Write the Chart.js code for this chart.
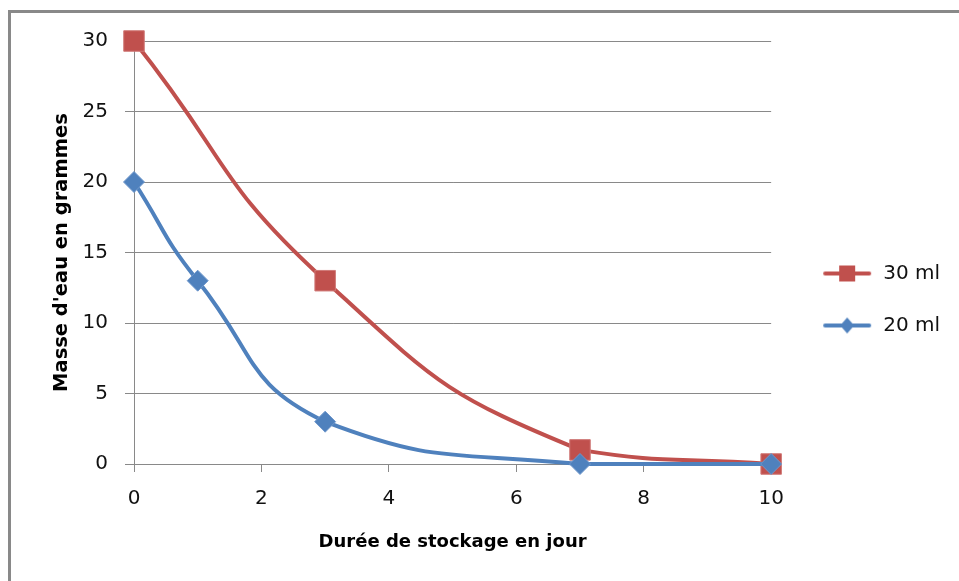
<!DOCTYPE html>
<html>
<head>
<meta charset="utf-8">
<script src="https://cdn.jsdelivr.net/npm/chart.js@4.4.0/dist/chart.umd.min.js"></script>
<style>
  html, body { margin: 0; padding: 0; background: #fff; overflow: hidden; width: 959px; height: 581px; }
  #frame { position: absolute; left: 8px; top: 10px; width: 1200px; height: 900px; border: 3px solid #898989; box-sizing: border-box; }
  #clip { position: absolute; left: 0; top: 0; width: 959px; height: 581px; overflow: hidden; }
  #wrap { position: absolute; left: 0; top: 0; width: 959px; height: 581px; }
</style>
</head>
<body>
<div id="clip"><div id="frame"></div></div>
<div id="wrap"><canvas id="c" width="959" height="581"></canvas></div>
<script>
const seriesNames = ['30 ml', '20 ml'];
const days30 = [0, 3, 7, 10];
const mass30 = [30, 13, 1, 0];
const days20 = [0, 1, 3, 7, 10];
const mass20 = [20, 13, 3, 0, 0];
const xTitle = 'Durée de stockage en jour';
const yTitle = "Masse d'eau en grammes";

const RED = '#C0504D';
const BLUE = '#4F81BD';
const ICON_W = 70;

function legendIcon(color, style) {
  const cv = document.createElement('canvas');
  cv.width = ICON_W; cv.height = 24;
  const g = cv.getContext('2d');
  g.strokeStyle = color; g.lineWidth = 4; g.lineCap = 'round';
  g.beginPath(); g.moveTo(22, 12); g.lineTo(66, 12); g.stroke();
  g.fillStyle = color;
  const cx = 44;
  if (style === 'rect') {
    g.fillRect(cx - 8, 4, 16, 16);
  } else {
    g.beginPath(); g.moveTo(cx, 4); g.lineTo(cx + 7, 12); g.lineTo(cx, 20); g.lineTo(cx - 7, 12); g.closePath(); g.fill();
  }
  return cv;
}

const pts = (xs, ys) => xs.map((x, i) => ({ x: x, y: ys[i] }));

new Chart(document.getElementById('c'), {
  type: 'line',
  data: {
    datasets: [
      {
        label: seriesNames[0],
        data: pts(days30, mass30),
        borderColor: RED,
        backgroundColor: RED,
        borderWidth: 4,
        pointStyle: 'rect',
        pointRadius: 14.5,
        pointBorderWidth: 1,
        pointBorderColor: '#D07A78',
        tension: 0.5,
        clip: false,
        order: 1
      },
      {
        label: seriesNames[1],
        data: pts(days20, mass20),
        borderColor: BLUE,
        backgroundColor: BLUE,
        borderWidth: 4,
        pointStyle: 'rectRot',
        pointRadius: 10.5,
        pointBorderWidth: 1,
        pointBorderColor: '#6F97CB',
        tension: 0.5,
        clip: false,
        order: 0
      }
    ]
  },
  options: {
    responsive: false,
    animation: false,
    events: [],
    layout: { padding: { left: 40, top: 41, right: 9, bottom: 23 } },
    plugins: {
      tooltip: { enabled: false },
      legend: {
        position: 'right',
        align: 'center',
        labels: {
          usePointStyle: true,
          pointStyleWidth: ICON_W,
          padding: 32,
          color: '#111',
          font: { family: 'DejaVu Sans', size: 20 },
          sort: (a, b) => a.datasetIndex - b.datasetIndex,
          generateLabels: (chart) => chart.data.datasets.map((ds, i) => ({
            text: ds.label,
            pointStyle: legendIcon(ds.borderColor, ds.pointStyle),
            fillStyle: ds.borderColor,
            strokeStyle: ds.borderColor,
            lineWidth: 0,
            datasetIndex: i,
            fontColor: '#111'
          }))
        }
      }
    },
    scales: {
      x: {
        type: 'linear',
        min: 0, max: 10,
        border: { display: true, color: '#898989', width: 1 },
        grid: { drawOnChartArea: false, drawTicks: true, tickLength: 8, color: '#898989' },
        ticks: { stepSize: 2, color: '#111', padding: 15, font: { family: 'DejaVu Sans', size: 20 } },
        title: { display: true, text: xTitle, color: '#000', font: { family: 'DejaVu Sans', size: 18, weight: 'bold' }, padding: { top: 4, bottom: 5 } },
        afterFit: (s) => { s.height = 94; }
      },
      y: {
        min: 0, max: 30,
        border: { display: true, color: '#898989', width: 1 },
        grid: { drawTicks: true, tickLength: 9, color: '#898989' },
        ticks: { stepSize: 5, color: '#111', padding: 17, font: { family: 'DejaVu Sans', size: 20 } },
        title: { display: true, text: yTitle, color: '#000', font: { family: 'DejaVu Sans', size: 19.5, weight: 'bold' }, padding: { top: 10, bottom: 4 } },
        afterFit: (s) => { s.width = 94; }
      }
    }
  }
});
</script>
</body>
</html>
